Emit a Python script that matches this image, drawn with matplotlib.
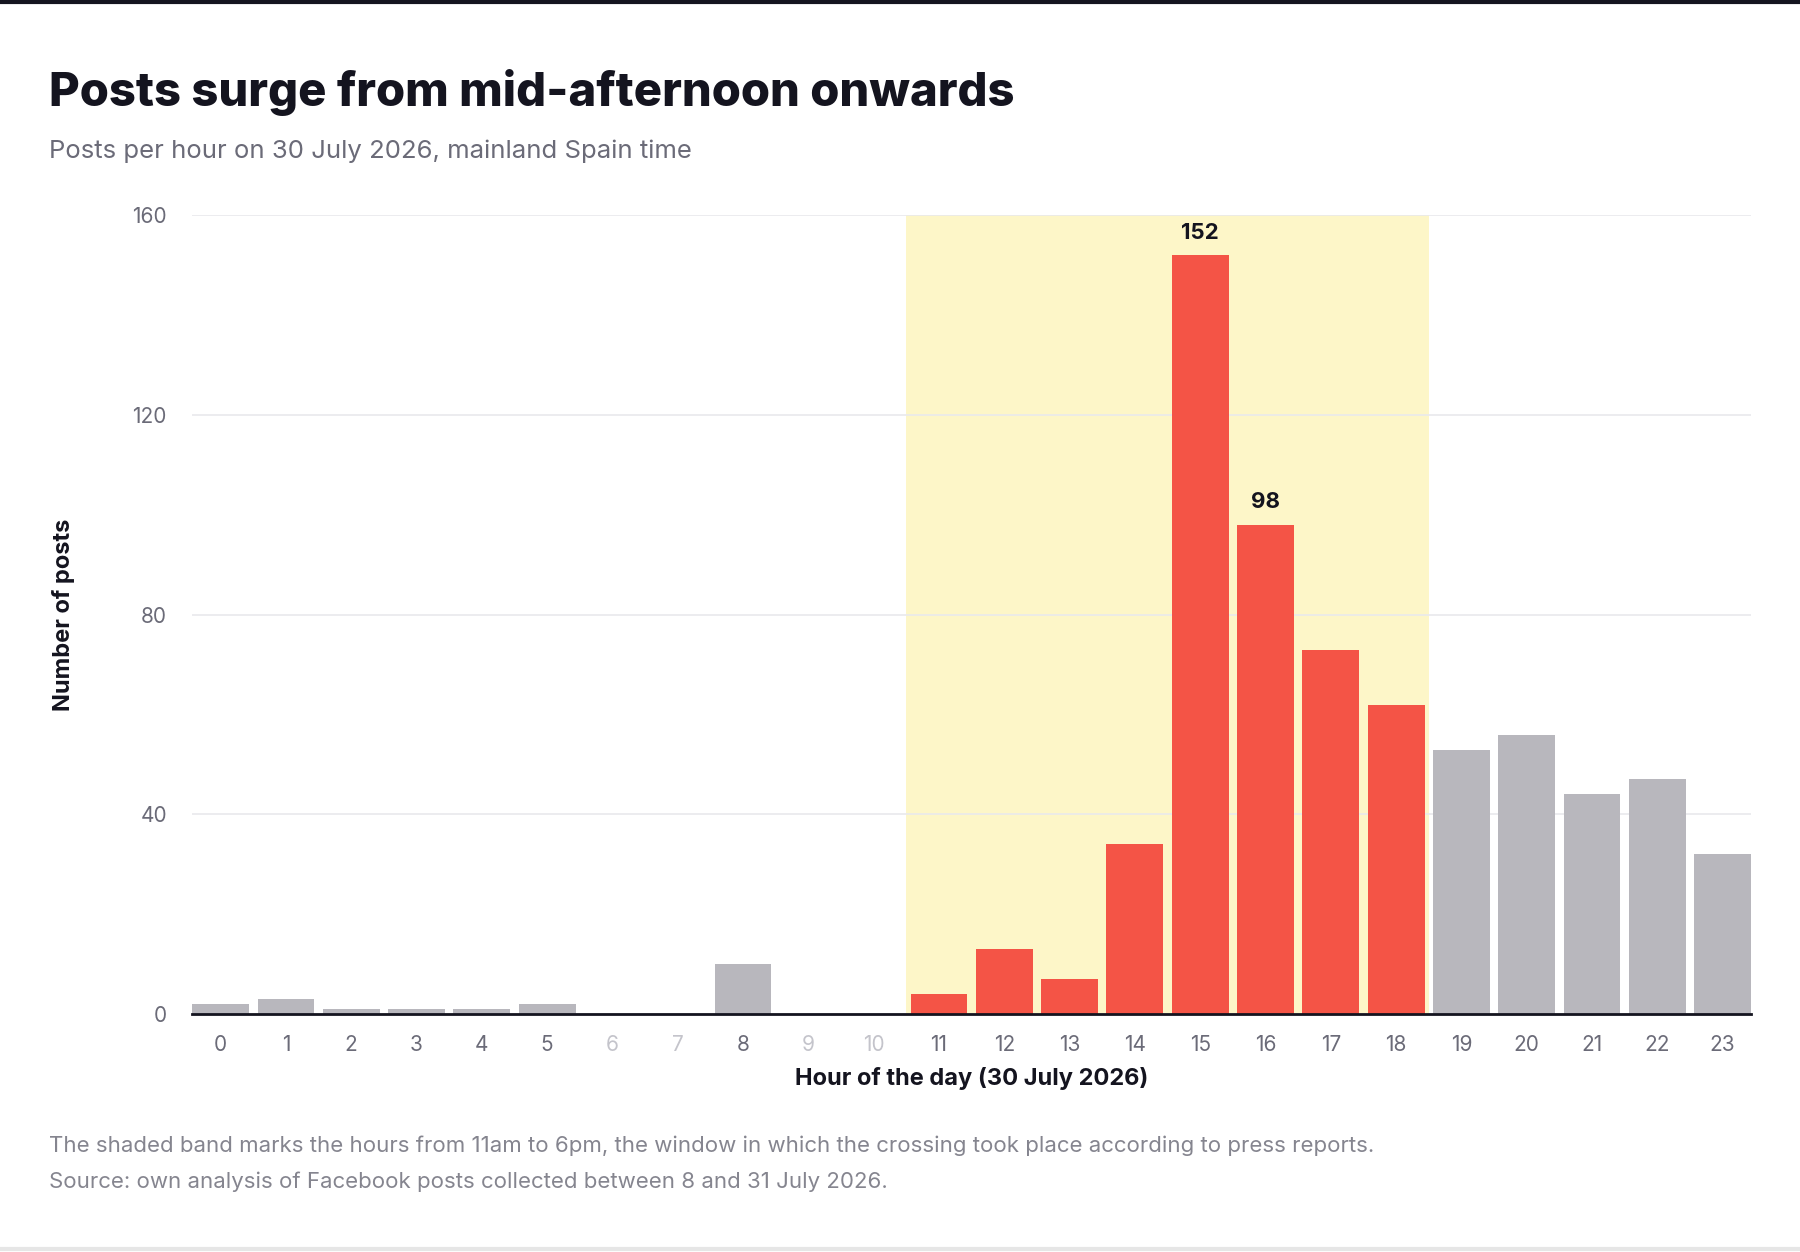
import matplotlib
matplotlib.use('Agg')
import matplotlib.pyplot as plt
import numpy as np

plt.rcParams['font.family'] = ['Inter', 'DejaVu Sans']

hours = list(range(24))
posts = [2, 3, 1, 1, 1, 2, 0, 0, 10, 0, 0, 4, 13, 7, 34, 152, 98, 73, 62, 53, 56, 44, 47, 32]
window_start, window_end = 11, 18
labelled_hours = [15, 16]

title = "Posts surge from mid-afternoon onwards"
subtitle = "Posts per hour on 30 July 2026, mainland Spain time"
note = "The shaded band marks the hours from 11am to 6pm, the window in which the crossing took place according to press reports."
source = "Source: own analysis of Facebook posts collected between 8 and 31 July 2026."

RED = '#F45446'
GREY = '#B8B7BD'
BAND = '#FDF6C8'
DARK = '#14141F'
MUTED = '#6B6B78'

fig = plt.figure(figsize=(18, 12.52), dpi=100)
ax = fig.add_axes([0.1066, 0.190, 0.973 - 0.1066, 0.828 - 0.190])

colors = [RED if window_start <= h <= window_end else GREY for h in hours]
ax.axvspan(window_start - 0.5, window_end + 0.5, color=BAND, zorder=0, lw=0)
ax.bar(hours, posts, width=0.87, color=colors, zorder=2)

for h in labelled_hours:
    ax.text(h, posts[h] + 2.5, str(posts[h]), ha='center', va='bottom',
            fontsize=16, fontweight='bold', color=DARK)

ax.set_xlim(-0.44, 23.44)
ax.set_ylim(0, 160)
ax.set_yticks([0, 40, 80, 120, 160])
ax.set_xticks(hours)
ax.grid(axis='y', color='#E9E9EC', lw=1.2, zorder=1)
ax.set_axisbelow(True)
for s in ['top', 'right', 'left']:
    ax.spines[s].set_visible(False)
ax.spines['bottom'].set_color(DARK)
ax.spines['bottom'].set_linewidth(2)
ax.spines['bottom'].set_zorder(3)
ax.tick_params(axis='both', length=0, labelsize=15, labelcolor=MUTED)
ax.tick_params(axis='y', pad=18)
ax.tick_params(axis='x', pad=15)
for h, lab in zip(hours, ax.get_xticklabels()):
    if posts[h] == 0:
        lab.set_color('#C4C4CB')

ax.set_xlabel("Hour of the day (30 July 2026)", fontsize=17, fontweight='bold',
              color=DARK, labelpad=9)
ax.set_ylabel("Number of posts", fontsize=17, fontweight='bold', color=DARK)
ax.yaxis.set_label_coords(-0.075, 0.5)

fig.text(0.027, 0.9157, title, fontsize=34, fontweight='heavy', color=DARK, va='baseline')
fig.text(0.027, 0.874, subtitle, fontsize=18.5, color=MUTED, va='baseline')
fig.text(0.027, 0.080, note, fontsize=16, color='#85858F', va='baseline')
fig.text(0.027, 0.051, source, fontsize=16, color='#85858F', va='baseline')

fig.add_artist(plt.Line2D([0, 1], [0.9985, 0.9985], color=DARK, lw=3, transform=fig.transFigure))
fig.add_artist(plt.Line2D([0, 1], [0.002, 0.002], color='#E6E6E6', lw=3, transform=fig.transFigure))

fig.savefig('out.png', dpi=100, facecolor='white')
